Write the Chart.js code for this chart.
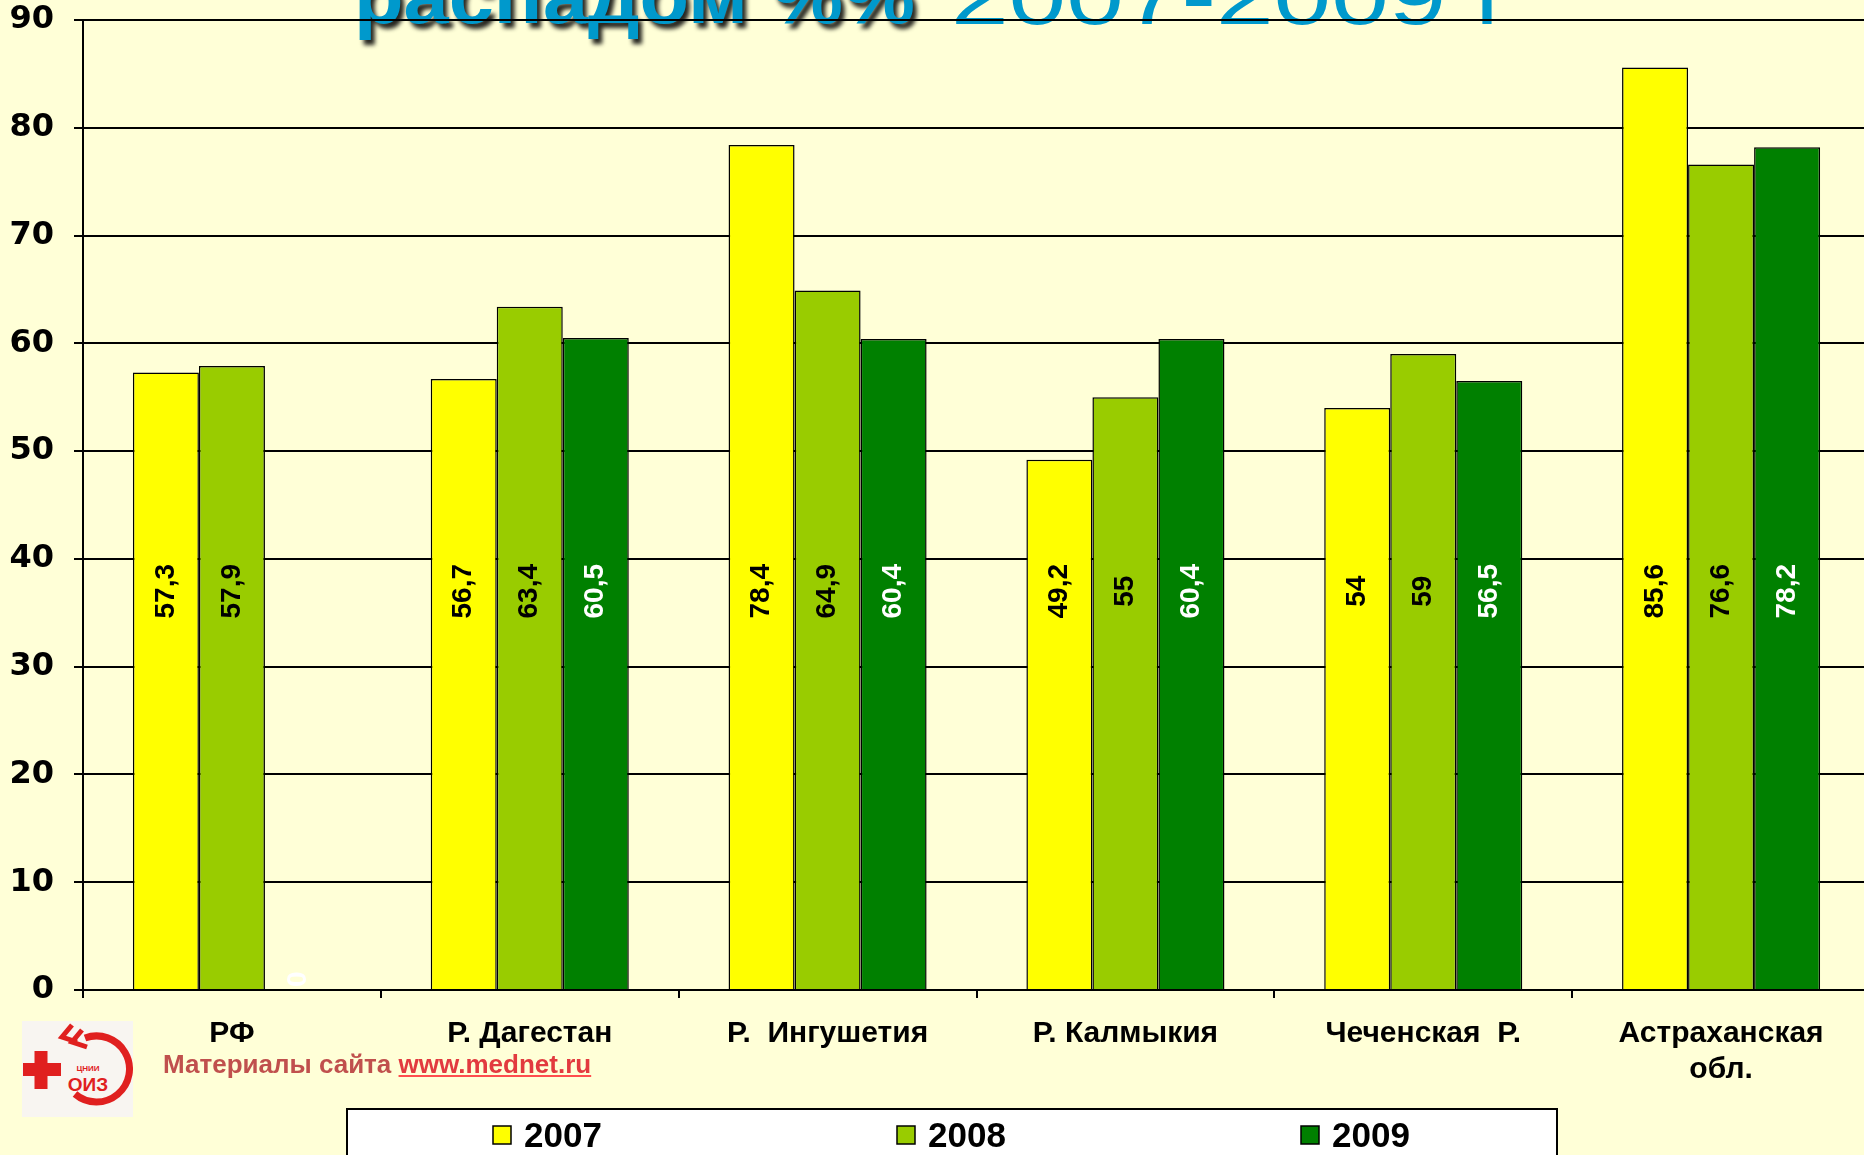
<!DOCTYPE html>
<html><head><meta charset="utf-8">
<script src="https://cdn.jsdelivr.net/npm/chart.js@4.4.1/dist/chart.umd.min.js"></script>
<style>
html,body{margin:0;padding:0;background:#FFFFD7;width:1864px;height:1155px;overflow:hidden;}
#wrap{position:absolute;left:0;top:0;width:1864px;height:1155px;overflow:hidden;}
canvas{position:absolute;left:0;top:0;}
#src{position:absolute;left:163px;top:1049px;font:bold 26px "Liberation Sans",Arial,sans-serif;color:#C0504D;white-space:nowrap;}
#src span{color:#E23A3F;text-decoration:underline;text-decoration-color:#FF4D4D;}
#logo{position:absolute;left:22px;top:1021px;}
</style></head>
<body>
<div id="wrap">
<canvas id="c" width="1870" height="1155"></canvas>
<svg id="logo" width="111" height="96" viewBox="0 0 111 96">
  <rect width="111" height="96" fill="#F8F5F1"/>
  <path d="M1 42h38v13h-38z M12.5 30h13v38h-13z" fill="#E0201F"/>
  <path d="M 63 17 A 33 33 0 1 1 53 73" fill="none" stroke="#E0201F" stroke-width="7"/>
  <path d="M 50 4 L 40 16 L 55 21 M 60 9 L 50 21 L 65 26" fill="none" stroke="#E0201F" stroke-width="5"/>
  <text x="66" y="50" font-size="8" font-family="Liberation Sans" font-weight="bold" fill="#E0201F" text-anchor="middle">ЦНИИ</text>
  <text x="66" y="70" font-size="19" font-family="Liberation Sans" font-weight="bold" fill="#E0201F" text-anchor="middle">ОИЗ</text>
</svg>
<div id="src">Материалы сайта <span>www.mednet.ru</span></div>
</div>
<script>
const categories = ["РФ", "Р. Дагестан", "Р.  Ингушетия", "Р. Калмыкия", "Чеченская  Р.", "Астраханская\nобл."];
const years = ["2007", "2008", "2009"];
const values2007 = [57.3, 56.7, 78.4, 49.2, 54, 85.6];
const values2008 = [57.9, 63.4, 64.9, 55, 59, 76.6];
const values2009 = [0, 60.5, 60.4, 60.4, 56.5, 78.2];
const yMin = 0, yMax = 90, yStep = 10;
const titleBold = "распадом %%";
const titleRegular = "2007-2009 г";

const barColors = ["#FFFF00", "#99CC00", "#008000"];
const labelColors = ["#000000", "#000000", "#FFFFFF"];

function fmt(v){ return String(v).replace('.', ','); }

const titlePlugin = {
  id: 'titleBehind',
  beforeDraw(chart){
    const ctx = chart.ctx;
    ctx.save();
    ctx.font = 'bold 80px "Liberation Sans", Arial, sans-serif';
    ctx.textBaseline = 'alphabetic';
    let w = ctx.measureText(titleBold).width;
    ctx.translate(354, 23);
    ctx.scale(561 / w, 1);
    ctx.shadowColor = 'rgba(0,0,0,0.85)';
    ctx.shadowOffsetX = 4; ctx.shadowOffsetY = 5; ctx.shadowBlur = 4;
    ctx.fillStyle = '#0099CC';
    ctx.fillText(titleBold, 0, 0);
    ctx.restore();
    ctx.save();
    ctx.font = '80px "Liberation Sans", Arial, sans-serif';
    ctx.textBaseline = 'alphabetic';
    w = ctx.measureText(titleRegular).width;
    ctx.translate(951, 24);
    ctx.scale(562 / w, 1);
    ctx.fillStyle = '#0099CC';
    ctx.fillText(titleRegular, 0, 0);
    ctx.restore();
  }
};

const valueLabels = {
  id: 'valueLabels',
  afterDatasetsDraw(chart){
    const ctx = chart.ctx, ys = chart.scales.y;
    chart.data.datasets.forEach((ds, i) => {
      const meta = chart.getDatasetMeta(i);
      meta.data.forEach((bar, j) => {
        const v = ds.data[j];
        const y = ys.getPixelForValue(v > 0 ? 37 : 1);
        ctx.save();
        ctx.translate(bar.x, y);
        ctx.rotate(-Math.PI / 2);
        ctx.font = 'bold 28px "Liberation Sans", Arial, sans-serif';
        ctx.fillStyle = labelColors[i];
        ctx.textAlign = 'center';
        ctx.textBaseline = 'middle';
        ctx.fillText(fmt(v), 0, 0);
        ctx.restore();
      });
    });
  }
};

const legendBox = {
  id: 'legendBox',
  afterDraw(chart){
    const ctx = chart.ctx;
    ctx.save();
    ctx.fillStyle = '#FFFFFF';
    ctx.fillRect(346, 1108, 1211, 70);
    ctx.strokeStyle = '#000';
    ctx.lineWidth = 2;
    ctx.strokeRect(347, 1109, 1210, 70);
    chart.data.datasets.forEach((ds, i) => {
      const x0 = 493 + i * 404;
      ctx.fillStyle = ds.backgroundColor;
      ctx.fillRect(x0, 1126, 18, 18);
      ctx.lineWidth = 1.5;
      ctx.strokeStyle = '#000';
      ctx.strokeRect(x0, 1126, 18, 18);
      ctx.fillStyle = '#000';
      ctx.font = 'bold 35px "Liberation Sans", Arial, sans-serif';
      ctx.textBaseline = 'middle';
      ctx.textAlign = 'left';
      ctx.fillText(ds.label, x0 + 31, 1137);
    });
    ctx.restore();
  }
};

new Chart(document.getElementById('c'), {
  type: 'bar',
  data: {
    labels: categories.map(c => c.split('\n')),
    datasets: [
      { label: years[0], data: values2007, backgroundColor: barColors[0] },
      { label: years[1], data: values2008, backgroundColor: barColors[1] },
      { label: years[2], data: values2009, backgroundColor: barColors[2] }
    ].map(d => Object.assign(d, { borderColor: '#000', borderWidth: 1.5, categoryPercentage: 0.665, barPercentage: 1.0 }))
  },
  options: {
    responsive: false,
    animation: false,
    devicePixelRatio: 1,
    layout: { padding: { top: 20, right: 0, bottom: 0, left: 0 } },
    plugins: { legend: { display: false }, tooltip: { enabled: false }, title: { display: false } },
    scales: {
      x: {
        ticks: { font: { family: 'Liberation Sans', weight: 'bold', size: 30 }, color: '#000', padding: 18, maxRotation: 0, autoSkip: false },
        grid: { drawOnChartArea: false, color: '#000', lineWidth: 2, tickLength: 8, offset: true },
        border: { color: '#000', width: 2 },
        afterFit(s){ s.height = 165; s.paddingLeft = 0; s.paddingRight = 0; }
      },
      y: {
        min: yMin, max: yMax,
        ticks: { stepSize: yStep, font: { family: 'DejaVu Sans', weight: 'bold', size: 32 }, color: '#000', padding: 20 },
        grid: { color: '#000', lineWidth: 2, tickLength: 9 },
        border: { color: '#000', width: 2 },
        afterFit(s){ s.width = 83; s.paddingTop = 0; s.paddingBottom = 0; }
      }
    }
  },
  plugins: [titlePlugin, valueLabels, legendBox]
});
</script>
</body></html>
